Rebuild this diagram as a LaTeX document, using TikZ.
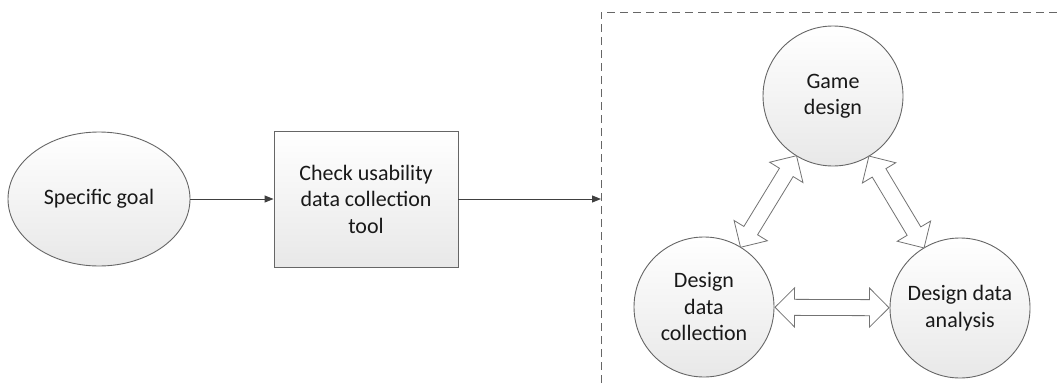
\documentclass[tikz,border=0pt]{standalone}
\usepackage{fontspec}
\setmainfont{Carlito}
\usetikzlibrary{shapes.geometric,calc,arrows.meta}
\tikzset{
  shapefill/.style={draw=black!60, line width=0.9pt, top color=white, bottom color=black!9, text=black!90,
    font=\fontsize{22}{26.5}\selectfont, align=center, inner sep=2pt},
  goal/.style={shapefill, ellipse, minimum width=182, minimum height=134},
  boxnode/.style={shapefill, rectangle, minimum width=184, minimum height=136},
  circ/.style={shapefill, circle, minimum size=140},
  conn/.style={draw=black!75, line width=1pt, -{Triangle[length=9pt,width=7pt]}},
  hollow/.style={draw=black!55, line width=0.8pt, fill=white},
}
\newcommand\hollowdbl[2]{%
  \path[hollow] let \p1=($(#2)-(#1)$), \n1={atan2(\y1,\x1)}, \n2={veclen(\x1,\y1)} in
    (#1) -- ++(\n1+45:27.6pt) -- ++(\n1-90:11.5pt) -- ++(\n1:{\n2-39pt}) -- ++(\n1+90:11.5pt) -- (#2)
    -- ++(\n1+225:27.6pt) -- ++(\n1+90:11.5pt) -- ++(\n1+180:{\n2-39pt}) -- ++(\n1-90:11.5pt) -- cycle;}
\begin{document}
\begin{tikzpicture}[x=1pt,y=-1pt]
\useasboundingbox (0,0) rectangle (1059,383);
\node[goal] (sg) at (99,199) {Specific goal};
\node[boxnode] (cu) at (366,199) {Check usability\\data collection\\tool};
\coordinate (dl) at (601,199);
\draw[conn] (sg) -- (cu);
\draw[conn] (cu) -- (dl);
\draw[black!60, line width=1pt, dash pattern=on 8pt off 5pt] (601,383) -- (601,12) -- (1059,12);
\node[circ] (gd) at (833,96) {Game\\design};
\node[circ] (dc) at (704,307) {Design\\data\\collection};
\node[circ] (da) at (960,308) {Design data\\analysis};
\coordinate (g1) at ($(gd)!70pt!(dc)$);
\coordinate (c1) at ($(dc)!70pt!(gd)$);
\coordinate (g2) at ($(gd)!70pt!(da)$);
\coordinate (a2) at ($(da)!70pt!(gd)$);
\coordinate (c3) at ($(dc)!71pt!(da)$);
\coordinate (a3) at ($(da)!71pt!(dc)$);
\hollowdbl{c1}{g1}
\hollowdbl{a2}{g2}
\hollowdbl{c3}{a3}
\end{tikzpicture}
\end{document}
